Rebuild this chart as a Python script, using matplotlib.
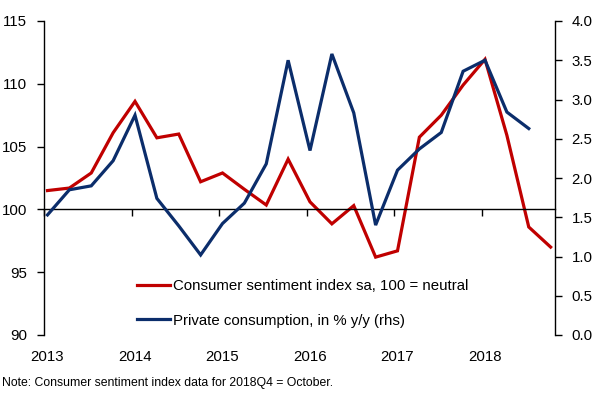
import matplotlib
matplotlib.use("Agg")
import matplotlib.pyplot as plt
from matplotlib.lines import Line2D
import numpy as np

# ---- data ----
quarters_sentiment = [f"{y}Q{q}" for y in range(2013, 2019) for q in range(1, 5)]
sentiment = [101.5, 101.7, 102.9, 106.1, 108.6, 105.7, 106.0, 102.2,
             102.9, 101.6, 100.35, 104.0, 100.6, 98.85, 100.3, 96.2,
             96.7, 105.75, 107.5, 109.9, 111.95, 105.9, 98.6, 97.0]
consumption = [1.53, 1.85, 1.90, 2.22, 2.80, 1.74, 1.39, 1.02,
               1.42, 1.68, 2.18, 3.50, 2.35, 3.58, 2.83, 1.40,
               2.10, 2.37, 2.58, 3.36, 3.50, 2.84, 2.63]
years = [2013, 2014, 2015, 2016, 2017, 2018]
year_labels = ["2013", "2014", "2015", "2016", "2017", "2018"]
left_ticks = [90, 95, 100, 105, 110, 115]
right_ticks = [0.0, 0.5, 1.0, 1.5, 2.0, 2.5, 3.0, 3.5, 4.0]
label_sent = "Consumer sentiment index sa, 100 = neutral"
label_cons = "Private consumption, in % y/y (rhs)"
note = "Note: Consumer sentiment index data for 2018Q4 = October."

RED = "#C00000"
BLUE = "#0B2D6B"
FONT = "Liberation Sans"
FS = 10.8

def qpos(label):
    y = int(label[:4]); q = int(label[5])
    return y + 0.04 + 0.25 * (q - 1)

x_sent = [qpos(q) for q in quarters_sentiment]
x_cons = [qpos(q) for q in quarters_sentiment[:len(consumption)]]

plt.rcParams['font.family'] = [FONT, 'DejaVu Sans']

fig = plt.figure(figsize=(6.02, 3.94), dpi=100)
W, H = 602, 394
ax = fig.add_axes([44 / W, 1 - 335 / H, (555 - 44) / W, (335 - 21) / H])
ax2 = ax.twinx()

ax.plot(x_sent, sentiment, color=RED, lw=2.3, solid_joinstyle='miter')
ax2.plot(x_cons, consumption, color=BLUE, lw=2.3, solid_joinstyle='miter')

ax.set_xlim(2013, 2013 + 511 / 87.5)
ax.set_ylim(90, 115)
ax2.set_ylim(0, 4)

for a in (ax, ax2):
    a.spines['top'].set_visible(False)
    a.patch.set_visible(False)
ax.spines['right'].set_visible(False)
ax2.spines['left'].set_visible(False)
ax2.spines['bottom'].set_visible(False)
ax.spines['bottom'].set_position(('data', 100))
for s in ('left', 'bottom'):
    ax.spines[s].set_linewidth(1.0)
    ax.spines[s].set_color('black')
ax2.spines['right'].set_linewidth(1.0)

ax.set_yticks(left_ticks)
ax.set_yticklabels([str(v) for v in left_ticks])
ax2.set_yticks(right_ticks)
ax2.set_yticklabels([f"{v:.1f}" for v in right_ticks])
ax.tick_params(axis='y', direction='out', length=5, width=1, pad=7, labelsize=FS, colors='black')
ax2.tick_params(axis='y', direction='out', length=5, width=1, pad=7, labelsize=FS, colors='black')

ax.set_xticks(years)
ax.set_xticklabels([])
ax.set_xticks([y + 0.04 for y in years], minor=True)
ax.set_xticklabels(year_labels, minor=True)
ax.tick_params(axis='x', which='major', direction='out', length=5, width=1)
ax.tick_params(axis='x', which='minor', length=0, pad=101, labelsize=FS)

handles = [Line2D([], [], color=RED, lw=2.3), Line2D([], [], color=BLUE, lw=2.3)]
leg = ax2.legend(handles, [label_sent, label_cons], loc='upper left',
                 bbox_to_anchor=(137 / W, 1 - 279 / H), bbox_transform=fig.transFigure,
                 frameon=False, fontsize=FS, handlelength=2.2, handletextpad=0.2,
                 labelspacing=1.38, borderaxespad=0, borderpad=0)

fig.text(2 / W, 1 - 383 / H, note, fontsize=8.8, va='center', ha='left')

fig.savefig("out.png", dpi=100)
